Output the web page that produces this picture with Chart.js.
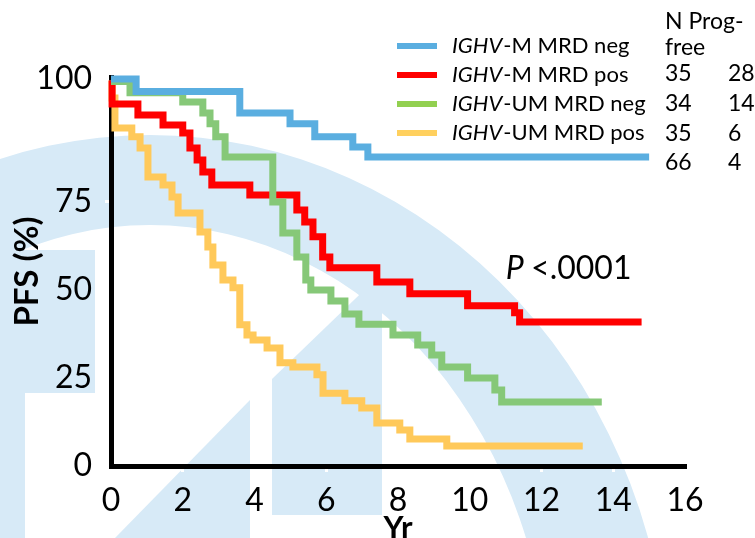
<!DOCTYPE html>
<html>
<head>
<meta charset="utf-8">
<script src="https://cdn.jsdelivr.net/npm/chart.js@4.4.1/dist/chart.umd.min.js"></script>
<style>
  html, body { margin: 0; padding: 0; background: #fff; }
  #wrap { width: 755px; height: 538px; }
</style>
</head>
<body>
<div id="wrap"><canvas id="km" width="755" height="538"></canvas></div>
<script>
// values, y in axis units (the "100" label sits at 110)
const blueYr = [0, 0.70, 3.59, 4.99, 5.68, 6.74, 7.16, 15.0]
const blueVal = [109.9, 106.4, 100.3, 97.2, 93.5, 90.6, 87.8, 87.8]

const redYr = [0, 0.03, 0.75, 1.45, 2.0, 2.2, 2.4, 2.56, 2.81, 3.87, 5.18, 5.4, 5.63, 5.9, 6.1, 7.41, 8.33, 9.94, 11.25, 11.39, 14.79]
const redVal = [109.5, 102.8, 99.7, 96.9, 94.6, 90.3, 86.9, 83.5, 79.8, 77.0, 72.7, 69.3, 65.1, 59.4, 56.3, 52.3, 48.9, 45.5, 43.5, 40.9, 40.9]

const greenYr = [0, 0.53, 2.0, 2.56, 2.76, 2.92, 3.18, 4.51, 4.79, 5.18, 5.43, 5.57, 6.13, 6.52, 6.91, 7.86, 8.55, 8.94, 9.22, 9.94, 10.7, 10.89, 13.68]
const greenVal = [109.2, 106.0, 103.4, 100.3, 97.2, 93.5, 87.8, 75.0, 66.2, 59.4, 52.8, 50.0, 46.9, 43.2, 40.3, 37.2, 34.4, 31.5, 28.1, 25.0, 21.6, 18.2, 18.2]

const yellowYr = [0, 0.03, 0.11, 0.58, 0.81, 1.03, 1.45, 1.70, 1.87, 2.48, 2.70, 2.84, 3.12, 3.40, 3.59, 3.79, 3.96, 4.35, 4.71, 5.07, 5.74, 5.91, 6.52, 6.99, 7.41, 8.05, 8.33, 9.36, 13.15]
const yellowVal = [109.5, 104.5, 96.0, 93.5, 90.3, 82.1, 79.8, 76.4, 71.9, 66.5, 62.2, 57.1, 52.8, 50.6, 40.1, 37.2, 35.8, 33.5, 29.3, 28.1, 25.9, 20.7, 18.5, 16.5, 12.2, 10.2, 7.7, 5.7, 5.7]

const groupNames = ['-M MRD neg', '-M MRD pos', '-UM MRD neg', '-UM MRD pos']
const nCount = [35, 34, 35, 66]
const progFree = [28, 14, 6, 4]

const yTicks = [0, 25, 50, 75, 110]
const yTickLabels = ['0', '25', '50', '75', '100']
const xTicks = [0, 2, 4, 6, 8, 10, 12, 14, 16]

const lineColors = ['#5aaee0', '#ff0000', '#86c878', '#ffc95a']
const legendColors = ['#5aaee0', '#ff0000', '#92d050', '#ffd05e']
const FONT = "Lato, 'Open Sans', sans-serif"

function pts(xs, ys) {
  return xs.map((x, i) => ({ x: x, y: ys[i] }))
}

// faint logo in the background
const watermark = {
  id: 'watermark',
  beforeDraw(chart) {
    const ctx = chart.ctx
    ctx.save()
    ctx.fillStyle = '#fff'
    ctx.fillRect(0, 0, chart.width, chart.height)
    ctx.fillStyle = '#d7eaf7'
    // ring
    ctx.beginPath()
    ctx.ellipse(150, 700, 520, 565, 0, 0, Math.PI * 2)
    ctx.moveTo(150 + 400, 700)
    ctx.ellipse(150, 700, 400, 475, 0, 0, Math.PI * 2)
    ctx.fill('evenodd')
    // letter strokes
    ctx.fillRect(0, 250, 95, 143)
    ctx.fillRect(0, 393, 25, 145)
    ctx.beginPath()
    ctx.moveTo(115, 538); ctx.lineTo(250, 400); ctx.lineTo(250, 538)
    ctx.closePath(); ctx.fill()
    ctx.beginPath()
    ctx.moveTo(272, 379); ctx.lineTo(382, 273); ctx.lineTo(382, 515); ctx.lineTo(272, 515)
    ctx.closePath(); ctx.fill()
    ctx.restore()
  }
}

// legend table and p value
const notes = {
  id: 'notes',
  afterDraw(chart) {
    const ctx = chart.ctx
    ctx.save()
    ctx.textBaseline = 'middle'
    ctx.fillStyle = '#000'
    groupNames.forEach((name, i) => {
      const y = 46 + i * 29
      ctx.strokeStyle = legendColors[i]
      ctx.lineWidth = 6
      ctx.beginPath(); ctx.moveTo(397, y); ctx.lineTo(437, y); ctx.stroke()
      ctx.font = 'italic 22px ' + FONT
      ctx.fillText('IGHV', 452, y)
      const w = ctx.measureText('IGHV').width
      ctx.font = '22px ' + FONT
      ctx.fillText(name, 452 + w + 1, y)
    })
    ctx.font = '23px ' + FONT
    ctx.fillText('N Prog-', 665, 22)
    ctx.fillText('free', 665, 48)
    nCount.forEach((n, i) => {
      const y = 74 + i * 29.6
      ctx.fillText(String(n), 665, y)
      ctx.fillText(String(progFree[i]), 728, y)
    })

    const px = chart.scales.x.getPixelForValue(11)
    const py = chart.scales.y.getPixelForValue(56)
    ctx.font = 'italic 32px ' + FONT
    ctx.fillText('P', px, py)
    const pw = ctx.measureText('P ').width
    ctx.font = '32px ' + FONT
    ctx.fillText('<.0001', px + pw, py)
    ctx.restore()
  }
}

function line(label, xs, ys, color) {
  return {
    label: label,
    data: pts(xs, ys),
    borderColor: color,
    backgroundColor: color,
    borderWidth: 7,
    pointRadius: 0,
    stepped: 'before',
    fill: false,
    clip: false,
    borderJoinStyle: 'miter',
    borderCapStyle: 'butt'
  }
}

function draw() {
  new Chart(document.getElementById('km'), {
    type: 'line',
    data: {
      datasets: [
        line('IGHV' + groupNames[0], blueYr, blueVal, lineColors[0]),
        line('IGHV' + groupNames[2], greenYr, greenVal, lineColors[2]),
        line('IGHV' + groupNames[1], redYr, redVal, lineColors[1]),
        line('IGHV' + groupNames[3], yellowYr, yellowVal, lineColors[3])
      ]
    },
    options: {
      responsive: false,
      animation: false,
      devicePixelRatio: 1,
      layout: { padding: { top: 77, right: 70, bottom: 0, left: 0 } },
      plugins: { legend: { display: false }, tooltip: { enabled: false } },
      scales: {
        x: {
          type: 'linear',
          min: 0,
          max: 16,
          afterFit: s => { s.height = 72 },
          afterBuildTicks: s => { s.ticks = xTicks.map(v => ({ value: v })) },
          border: { display: true, color: '#000', width: 5 },
          grid: { display: true, drawOnChartArea: false, color: '#fff', tickLength: 6, lineWidth: 3 },
          ticks: { color: '#000', padding: 9, font: { family: FONT, size: 32 }, maxRotation: 0 },
          title: { display: true, text: 'Yr', color: '#000', font: { family: FONT, size: 31, weight: 'bold', lineHeight: 1 }, padding: { top: 0, bottom: -5 } }
        },
        y: {
          min: 0,
          max: 110.5,
          afterFit: s => { s.width = 111 },
          afterBuildTicks: s => { s.ticks = yTicks.map(v => ({ value: v })) },
          border: { display: true, color: '#000', width: 5 },
          grid: { display: true, drawOnChartArea: false, color: '#fff', tickLength: 6, lineWidth: 3 },
          ticks: {
            color: '#000', padding: 13, font: { family: FONT, size: 32 },
            callback: v => yTickLabels[yTicks.indexOf(v)]
          },
          title: { display: true, text: 'PFS (%)', color: '#000', font: { family: FONT, size: 33, weight: 'bold', lineHeight: 1 }, padding: { top: 11, bottom: 0 } }
        }
      }
    },
    plugins: [watermark, notes]
  })
}

Promise.all([
  document.fonts.load('32px Lato'),
  document.fonts.load('italic 22px Lato'),
  document.fonts.load('bold 33px Lato')
]).then(draw, draw)
</script>
</body>
</html>
